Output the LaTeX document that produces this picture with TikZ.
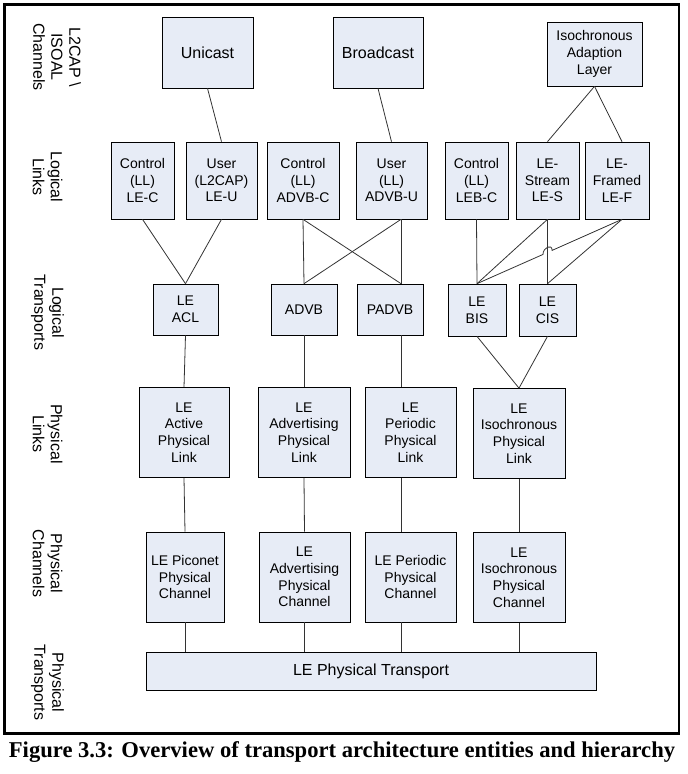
\documentclass[tikz,border=0pt]{standalone}
\usepackage{fontspec}
\setmainfont{Liberation Sans}
\newfontfamily\capfont{Liberation Serif}
\usetikzlibrary{calc}
\definecolor{boxfill}{RGB}{231,236,246}

\begin{document}
\begin{tikzpicture}[x=1pt,y=-1pt,
    link/.style={draw=black!80,line width=.8pt},
    layer/.style={rotate=-90,align=center,font=\fontsize{16}{18}\selectfont}]
    \tikzset{every node/.style={inner sep=0pt,align=center,font=\fontsize{14}{16.7}\selectfont},
        entity/.style 2 args={draw,fill=boxfill,line width=.7pt,minimum width=#1,minimum height=#2}}
    \useasboundingbox (0,0) rectangle (688,774);
    \draw[line width=2.5pt] (4.5,4.5) rectangle (679,733.5);

    \node[layer] (lchan) at (57,57) {L2CAP \textbackslash\\ISOAL\\Channels};
    \node[layer] (llink) at (47.5,177) {Logical\\Links};
    \node[layer] (ltrans) at (47.5,312.5) {Logical\\Transports};
    \node[layer] (plink) at (47.5,434) {Physical\\Links};
    \node[layer] (pchan) at (47.5,563.5) {Physical\\Channels};
    \node[layer] (ptrans) at (47.5,682.5) {Physical\\Transports};

    \node[entity={91}{71},font=\fontsize{16}{19}\selectfont] (uni) at (207.5,52.5) {Unicast};
    \node[entity={90}{71},font=\fontsize{16}{19}\selectfont] (bro) at (378,52.5) {Broadcast};
    \node[entity={95}{64}] (isoal) at (594.5,54) {Isochronous\\Adaption\\Layer};

    \node[entity={63}{77}] (lec) at (142.5,180.5) {Control\\(LL)\\LE-C};
    \node[entity={71}{77}] (leu) at (221.5,180.5) {User\\(L2CAP)\\LE-U};
    \node[entity={72}{77}] (advbc) at (303,180.5) {Control\\(LL)\\ADVB-C};
    \node[entity={71}{77}] (advbu) at (391.5,180.5) {User\\(LL)\\ADVB-U};
    \node[entity={63}{77}] (lebc) at (476.5,180.5) {Control\\(LL)\\LEB-C};
    \node[entity={63}{77}] (les) at (547.5,180.5) {LE-\\Stream\\LE-S};
    \node[entity={64}{77}] (lef) at (617,180.5) {LE-\\Framed\\LE-F};

    \node[entity={65}{51}] (acl) at (185.5,309.5) {LE\\ACL};
    \node[entity={66}{51}] (advb) at (304,309.5) {ADVB};
    \node[entity={66}{51}] (padvb) at (390,309.5) {PADVB};
    \node[entity={58}{52}] (bis) at (477,310) {LE\\BIS};
    \node[entity={57}{52}] (cis) at (547.5,310) {LE\\CIS};

    \node[entity={90}{90}] (active) at (184,432.5) {LE\\Active\\Physical\\Link};
    \node[entity={92}{90}] (advpl) at (304,432.5) {LE\\Advertising\\Physical\\Link};
    \node[entity={91}{90}] (perpl) at (410.5,432.5) {LE\\Periodic\\Physical\\Link};
    \node[entity={92}{90}] (isopl) at (519,433.5) {LE\\Isochronous\\Physical\\Link};

    \node[entity={78}{90}] (pico) at (185,577) {LE Piconet\\Physical\\Channel};
    \node[entity={91}{90}] (advch) at (304.5,577) {LE\\Advertising\\Physical\\Channel};
    \node[entity={91}{90}] (perch) at (410.5,577) {LE Periodic\\Physical\\Channel};
    \node[entity={92}{90}] (isoch) at (519,577.5) {LE\\Isochronous\\Physical\\Channel};

    \node[entity={450}{38},font=\fontsize{16}{19}\selectfont] (trans) at (371,671) {LE Physical Transport};

    \node[anchor=base,font=\capfont\bfseries\fontsize{22.6}{26}\selectfont] (caption) at (342,757)
        {Figure 3.3: Overview of transport architecture entities and hierarchy};

    % off-centre column of the periodic entities, and the LE-F connector ends
    \coordinate (pcol) at (401,0);
    \coordinate (lf) at ([xshift=5pt]lef.south);
    \coordinate (lfn) at ([xshift=5pt]lef.north);
    \coordinate (hop) at (intersection of lf--bis.north and les.south--cis.north);

    \draw[link] (uni.south) -- (leu.north);
    \draw[link] (bro.south) -- (advbu.north);
    \draw[link] (isoal.south) -- (les.north);
    \draw[link] (isoal.south) -- (lfn);

    \draw[link] (lec.south) -- (acl.north);
    \draw[link] (leu.south) -- (acl.north);
    \draw[link] (advbc.south) -- (advb.north);
    \draw[link] (advbc.south) -- (padvb.north -| pcol);
    \draw[link] (advbu.south -| pcol) -- (advb.north);
    \draw[link] (advbu.south -| pcol) -- (padvb.north -| pcol);
    \draw[link] (lebc.south) -- (bis.north);
    \draw[link] (les.south) -- (bis.north);
    \draw[link] (les.south) -- (cis.north);
    \draw[link] (lf) -- (cis.north);
    \draw[link] (lf) -- ($(hop)!5pt!(lf)$) .. controls +(0,-7) and +(0,-7) .. ($(hop)!5pt!(bis.north)$) -- (bis.north);

    \draw[link] (acl.south) -- (active.north);
    \draw[link] (advb.south) -- (advpl.north);
    \draw[link] (padvb.south -| pcol) -- (perpl.north -| pcol);
    \draw[link] (bis.south) -- (isopl.north);
    \draw[link] (cis.south) -- (isopl.north);

    \draw[link] (active.south) -- (pico.north);
    \draw[link] (advpl.south) -- (advch.north);
    \draw[link] (perpl.south -| pcol) -- (perch.north -| pcol);
    \draw[link] (isopl.south) -- (isoch.north);

    \foreach \n in {pico,advch,isoch}
        \draw[link] (\n.south) -- (trans.north -| \n.south);
    \draw[link] (perch.south -| pcol) -- (trans.north -| pcol);
\end{tikzpicture}
\end{document}
